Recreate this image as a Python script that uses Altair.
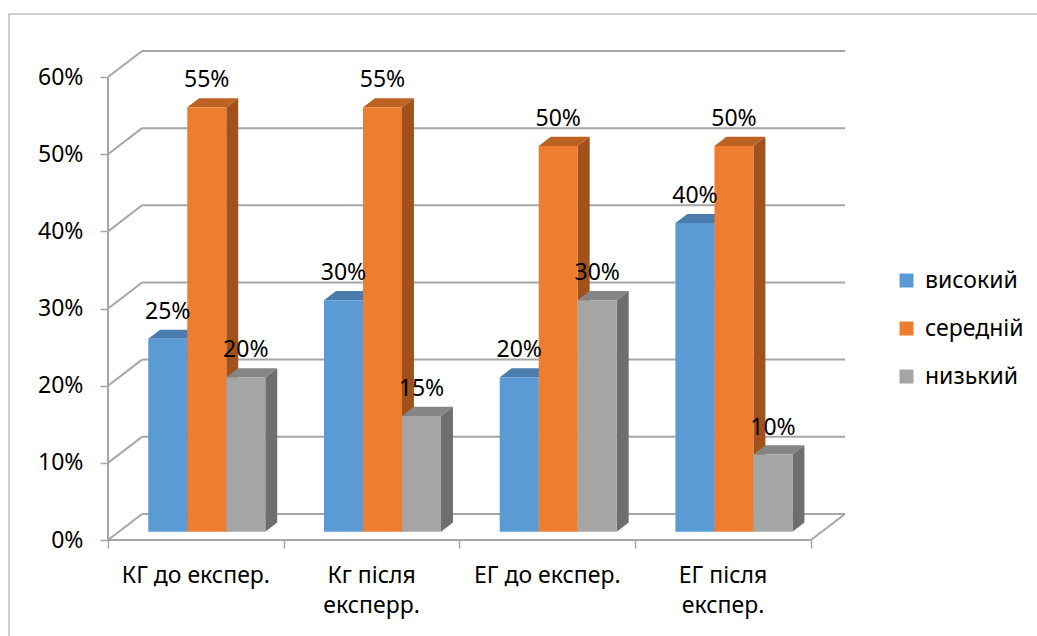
import altair as alt
import pandas as pd

# Survey results, share of respondents per level (percent)
categories = ["КГ до експер.", "Кг після\nексперр.", "ЕГ до експер.", "ЕГ після\nекспер."]
series = ["високий", "середній", "низький"]
vysokyi = [25, 30, 20, 40]
serednii = [55, 55, 50, 50]
nyzkyi = [20, 15, 30, 10]
y_ticks = [0, 10, 20, 30, 40, 50, 60]

front_colors = ["#5B9BD5", "#ED7D31", "#A5A5A5"]
top_colors = ["#4A7DAE", "#BC6324", "#858585"]
side_colors = ["#3F6A94", "#A2511C", "#6E6E6E"]

# Oblique projection of the 3-D box: depth shifts right (category units) and up (percent)
DX = 0.194
DV = 3.38
BAR_W = 0.222
D0, D1 = 0.32, 0.67
FONT = "Noto Sans"
FS = 23
GRID = "#A6A6A6"

values = [vysokyi, serednii, nyzkyi]

fronts, tops, sides, labels = [], [], [], []
for i, cat in enumerate(categories):
    for j, s in enumerate(series):
        v = values[j][i]
        left = i + 0.5 - 1.5 * BAR_W + j * BAR_W
        right = left + BAR_W
        bid = f"{i}-{j}"
        fronts.append(dict(series=s, x=left + D0 * DX, x2=right + D0 * DX,
                           y=D0 * DV, y2=v + D0 * DV, order=j))
        for d in (D0, D1):
            tops.append(dict(bar=bid, color=top_colors[j], yy=v + d * DV,
                             x=left + d * DX, x2=right + d * DX))
            sides.append(dict(bar=bid, color=side_colors[j], xx=right + d * DX,
                              y=d * DV, y2=v + d * DV))
        labels.append(dict(x=(left + right) / 2 + D0 * DX, y=v + D0 * DV, text=f"{v}%"))

# Walls and floor of the 3-D box
edges = []
for t in y_ticks:
    edges.append(dict(x=0, y=t, x2=DX, y2=t + DV))
    edges.append(dict(x=DX, y=t + DV, x2=4 + DX, y2=t + DV))
edges.append(dict(x=4, y=0, x2=4 + DX, y2=DV))
edges.append(dict(x=0, y=0, x2=4, y2=0))
edges.append(dict(x=0, y=0, x2=0, y2=60))

cat_labels = pd.DataFrame(dict(x=[i + 0.5 for i in range(4)], y=[0] * 4, text=categories))

xs = alt.Scale(domain=[0, 4 + DX], nice=False, zero=False)
ys = alt.Scale(domain=[0, 60 + DV], nice=False, zero=False)

X = alt.X("x:Q", scale=xs, axis=alt.Axis(values=[0, 1, 2, 3, 4], labels=False, domain=False,
                                         grid=False, tickSize=8, tickColor=GRID, tickWidth=1.5,
                                         title=None))
Y = alt.Y("y:Q", scale=ys, axis=alt.Axis(values=y_ticks, labelExpr="datum.value + '%'",
                                         domain=False, grid=False, tickSize=8, tickColor=GRID,
                                         tickWidth=1.5, labelFontSize=FS, labelFont=FONT,
                                         labelColor="black", labelPadding=17, title=None))

border = alt.Chart(pd.DataFrame({"a": [0]})).mark_rect(
    fill=None, stroke="#BFBFBF", strokeWidth=1.5
).encode(x=alt.value(-99), x2=alt.value(1040), y=alt.value(-37), y2=alt.value(700))

walls = alt.Chart(pd.DataFrame(edges)).mark_rule(color=GRID, strokeWidth=2).encode(
    x=X, y=Y, x2="x2:Q", y2="y2:Q")

side_layer = alt.Chart(pd.DataFrame(sides)).mark_area(orient="vertical").encode(
    x=alt.X("xx:Q", scale=xs), y=alt.Y("y:Q", scale=ys), y2="y2:Q",
    detail="bar:N", color=alt.Color("color:N", scale=None))

top_layer = alt.Chart(pd.DataFrame(tops)).mark_area(orient="horizontal").encode(
    y=alt.Y("yy:Q", scale=ys), x=alt.X("x:Q", scale=xs), x2="x2:Q",
    detail="bar:N", color=alt.Color("color:N", scale=None))

front_layer = alt.Chart(pd.DataFrame(fronts)).mark_rect().encode(
    x=alt.X("x:Q", scale=xs), x2="x2:Q", y=alt.Y("y:Q", scale=ys), y2="y2:Q",
    color=alt.Color("series:N", sort=series,
                    scale=alt.Scale(domain=series, range=front_colors),
                    legend=alt.Legend(title=None, orient="none", legendX=787, legendY=218,
                                      symbolType="square", symbolSize=196, symbolStrokeWidth=0,
                                      labelFontSize=FS, labelFont=FONT, labelColor="black",
                                      labelOffset=7, rowPadding=24, padding=0)))

value_labels = alt.Chart(pd.DataFrame(labels)).mark_text(
    fontSize=FS, font=FONT, color="black", dy=-27, baseline="middle"
).encode(x=alt.X("x:Q", scale=xs), y=alt.Y("y:Q", scale=ys), text="text:N")

category_text = alt.Chart(cat_labels).mark_text(
    fontSize=FS, font=FONT, color="black", dy=25, baseline="top", lineBreak="\n", lineHeight=30
).encode(x=alt.X("x:Q", scale=xs), y=alt.Y("y:Q", scale=ys), text="text:N")

chart = alt.layer(
    border, walls, side_layer, top_layer, front_layer, value_labels, category_text
).properties(
    width=737, height=489,
    padding={"left": 108, "top": 51, "right": 192, "bottom": 96},
    autosize=alt.AutoSizeParams(type="none"),
    background="white",
).configure_view(stroke=None)

chart.save("out.html", embed_options={"renderer": "svg", "actions": False})
